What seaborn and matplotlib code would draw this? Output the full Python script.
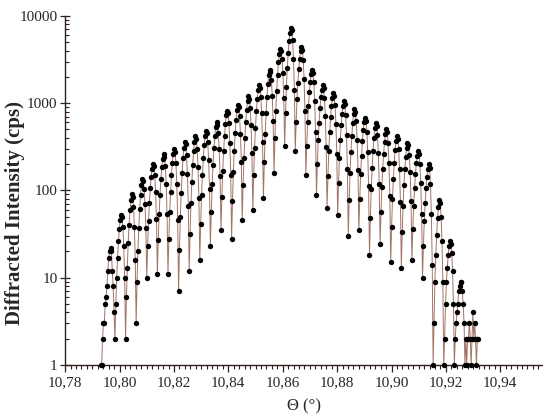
# Laue fringes around the (002) reflection, log scale
import numpy as np
import pandas as pd
import matplotlib
matplotlib.use('Agg')
import matplotlib.pyplot as plt
import seaborn as sns
from matplotlib.ticker import FixedLocator, MultipleLocator, FuncFormatter, LogLocator, NullFormatter

sns.set_style('ticks')
plt.rcParams['font.family'] = ['Liberation Serif', 'DejaVu Serif']

# scan grid (start angle and step of the measurement)
theta_start = 10.7931
theta_step = 0.000325

# counts, fringe by fringe
lead = [1, 1, 2, 3, 3]
left_fringes = [
    [5, 6, 8, 12, 17, 20, 22, 20, 12, 8, 4, 2],
    [5, 10, 17, 26, 36, 46, 52, 49, 38, 23, 10, 2],
    [6, 13, 25, 40, 59, 77, 90, 84, 64, 38, 16, 3],
    [9, 20, 37, 61, 89, 116, 135, 128, 104, 70, 37, 10],
    [23, 45, 72, 107, 144, 177, 200, 189, 150, 97, 47, 11],
    [27, 53, 89, 134, 184, 229, 260, 244, 190, 118, 53, 11],
    [28, 57, 97, 150, 208, 263, 300, 278, 206, 117, 46, 7],
    [21, 50, 94, 157, 233, 308, 360, 336, 256, 154, 66, 12],
    [32, 71, 124, 197, 281, 360, 415, 389, 300, 184, 81, 16],
    [41, 88, 151, 235, 330, 419, 480, 452, 354, 224, 105, 23],
    [57, 117, 198, 303, 419, 526, 600, 566, 452, 295, 145, 35],
    [85, 169, 281, 423, 579, 723, 820, 767, 585, 352, 152, 28],
    [75, 163, 286, 453, 646, 826, 950, 895, 703, 446, 209, 46],
    [115, 235, 396, 605, 838, 1052, 1200, 1130, 889, 568, 268, 60],
    [150, 310, 524, 803, 1114, 1403, 1600, 1507, 1189, 762, 362, 82],
    [211, 444, 762, 1180, 1656, 2094, 2400, 2270, 1828, 1219, 619, 160],
    [399, 820, 1384, 2113, 2931, 3681, 4200, 3990, 3243, 2208, 1159, 320],
]
main_peak = [767, 1528, 2518, 3784, 5176, 6442, 7300, 6839, 5260, 3228, 1429, 280]
right_fringes = [
    [605, 1109, 1722, 2466, 3243, 3936, 4400, 4111, 3133, 1888, 812, 150],
    [326, 600, 935, 1340, 1770, 2148, 2400, 2244, 1726, 1052, 462, 89],
    [200, 378, 598, 871, 1164, 1426, 1600, 1500, 1159, 713, 318, 63],
    [147, 286, 464, 689, 931, 1151, 1300, 1219, 942, 582, 260, 52],
    [121, 234, 378, 558, 753, 931, 1050, 977, 736, 432, 177, 30],
    [77, 160, 272, 421, 587, 743, 850, 796, 618, 383, 173, 35],
    [80, 155, 248, 365, 491, 604, 680, 632, 473, 275, 111, 18],
    [48, 103, 180, 284, 402, 513, 590, 553, 429, 265, 119, 24],
    [56, 110, 178, 264, 358, 443, 500, 467, 352, 208, 87, 15],
    [38, 79, 135, 208, 291, 367, 420, 392, 296, 176, 74, 13],
    [33, 67, 114, 175, 244, 307, 350, 329, 257, 162, 75, 16],
    [36, 67, 106, 153, 204, 249, 280, 262, 201, 122, 53, 10],
    [23, 45, 72, 107, 144, 177, 200, 180, 118, 53, 14, 1],
    [3, 9, 18, 31, 48, 65, 78, 71, 50, 26, 9, 1],
    [2, 5, 9, 13, 18, 23, 26, 24, 19, 12, 5, 1],
    [2, 3, 4, 5, 7, 8, 9, 9, 7, 5, 3, 1],
]
tail = [2, 1, 2, 2, 3, 2, 1, 2, 4, 2, 3, 2, 1, 2, 2]

x_ticks = [10.78, 10.80, 10.82, 10.84, 10.86, 10.88, 10.90, 10.92, 10.94]

counts = lead + sum(left_fringes, []) + main_peak + sum(right_fringes, []) + tail
theta = theta_start + theta_step * np.arange(len(counts))
df = pd.DataFrame({'theta': theta, 'cps': counts})

axis_col = '#2e211c'

fig = plt.figure(figsize=(5.43, 4.18), dpi=100)
ax = fig.add_axes([0.12, 0.127, 0.88, 0.835])

sns.lineplot(data=df, x='theta', y='cps', color='#a27466', lw=0.7,
             estimator=None, sort=False, ax=ax)
sns.scatterplot(data=df, x='theta', y='cps', color='black', s=15,
                linewidth=0, ax=ax, zorder=3, clip_on=False)

ax.set_yscale('log')
ax.set_ylim(1, 10000)
ax.set_xlim(10.78, 10.9557)

ax.xaxis.set_major_locator(FixedLocator(x_ticks))
ax.xaxis.set_minor_locator(MultipleLocator(0.002))
ax.xaxis.set_major_formatter(FuncFormatter(lambda v, p: f'{v:.2f}'.replace('.', ',')))
ax.yaxis.set_major_locator(LogLocator(base=10))
ax.yaxis.set_minor_locator(LogLocator(base=10, subs=np.arange(2, 10)))
ax.yaxis.set_major_formatter(FuncFormatter(lambda v, p: f'{v:g}'))
ax.yaxis.set_minor_formatter(NullFormatter())

ax.tick_params(axis='x', which='major', direction='out', length=5, width=0.9,
               color=axis_col, labelsize=11, pad=3)
ax.tick_params(axis='x', which='minor', direction='out', length=3, width=0.8, color=axis_col)
ax.tick_params(axis='y', which='major', direction='inout', length=7, width=0.9,
               color=axis_col, labelsize=11, pad=2)
ax.tick_params(axis='y', which='minor', direction='in', length=3, width=0.8, color=axis_col)

sns.despine(ax=ax)
for s in ['left', 'bottom']:
    ax.spines[s].set_color(axis_col)
    ax.spines[s].set_linewidth(1.0)

ax.set_xlabel('Θ (°)', fontsize=12, labelpad=7)
ax.set_ylabel('Diffracted Intensity (cps)', fontsize=15, fontweight='bold')
ax.yaxis.set_label_coords(-0.085, 0.435)

fig.savefig('out.png', dpi=100)
